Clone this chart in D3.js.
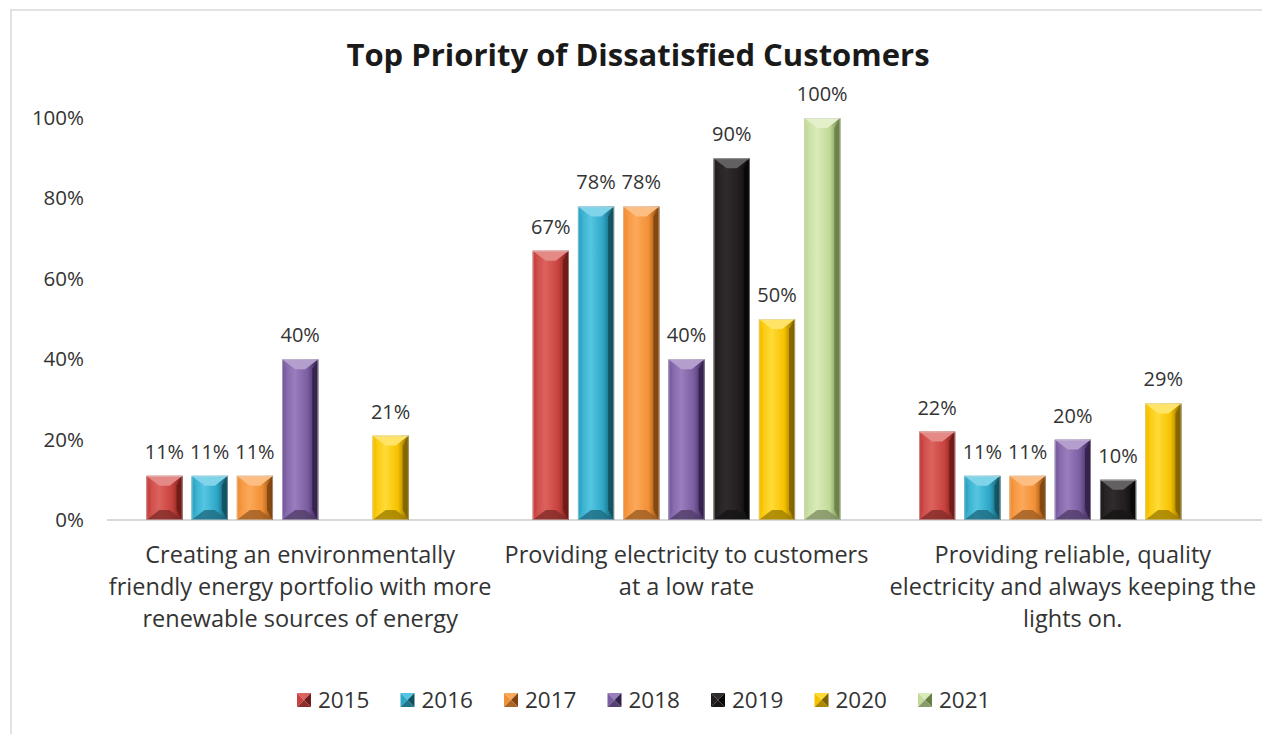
<!DOCTYPE html>
<html>
<head>
<meta charset="utf-8">
<script src="https://cdn.jsdelivr.net/npm/d3@7"></script>
<style>
  body { margin: 0; background: #fff; }
  text { font-family: "Open Sans", Lato, sans-serif; }
</style>
</head>
<body>
<svg id="chart" width="1262" height="734"></svg>
<script>
// DATA
const years = ["2015", "2016", "2017", "2018", "2019", "2020", "2021"];
const categories = [
  ["Creating an environmentally", "friendly energy portfolio with more", "renewable sources of energy"],
  ["Providing electricity to customers", "at a low rate"],
  ["Providing reliable, quality", "electricity and always keeping the", "lights on."],
];
const values2015 = [0.11, 0.67, 0.22];
const values2016 = [0.11, 0.78, 0.11];
const values2017 = [0.11, 0.78, 0.11];
const values2018 = [0.40, 0.40, 0.20];
const values2019 = [null, 0.90, 0.10];
const values2020 = [0.21, 0.50, 0.29];
const values2021 = [null, 1.00, null];
const tickValues = [0, 0.2, 0.4, 0.6, 0.8, 1.0];

const seriesValues = [values2015, values2016, values2017, values2018, values2019, values2020, values2021];

const palette = {
  "2015": { light: "#dc625e", base: "#c8433f", dark: "#6f1a18" },
  "2016": { light: "#55c6e2", base: "#2ea6c6", dark: "#12505f" },
  "2017": { light: "#fca85a", base: "#f29036", dark: "#7f440f" },
  "2018": { light: "#9a7dbd", base: "#7b5ea2", dark: "#33204a" },
  "2019": { light: "#2f2b2c", base: "#221e1f", dark: "#070707" },
  "2020": { light: "#ffdb35", base: "#f6c200", dark: "#7f6200" },
  "2021": { light: "#d9ebb8", base: "#c2da9a", dark: "#667f43" },
};

const textColor = "#333333";
const svg = d3.select("#chart");
const margin = { top: 118, left: 107, right: 1266, bottom: 520 };

// frame
svg.append("rect")
  .attr("x", 11).attr("y", 10)
  .attr("width", 1300).attr("height", 800)
  .attr("fill", "#fff")
  .attr("stroke", "#d9d9d9")
  .attr("stroke-width", 1.5);

// gradients
const defs = svg.append("defs");
years.forEach((yr) => {
  const c = palette[yr];
  const grad = defs.append("linearGradient")
    .attr("id", "grad" + yr)
    .attr("x1", "0%").attr("x2", "100%").attr("y1", "0%").attr("y2", "0%");
  grad.append("stop").attr("offset", "0%").attr("stop-color", c.base);
  grad.append("stop").attr("offset", "35%").attr("stop-color", c.light);
  grad.append("stop").attr("offset", "70%").attr("stop-color", c.base);
  grad.append("stop").attr("offset", "100%").attr("stop-color", c.dark);
});

// scales
const x0 = d3.scaleBand()
  .domain(d3.range(categories.length))
  .range([margin.left, margin.right])
  .padding(0);

const x1 = d3.scaleBand()
  .domain(years)
  .range([0, x0.bandwidth()])
  .paddingInner(0.2)
  .paddingOuter(0.87);

const y = d3.scaleLinear().domain([0, 1]).range([margin.bottom, margin.top]);

// title
svg.append("text")
  .attr("x", 638).attr("y", 66)
  .attr("text-anchor", "middle")
  .attr("font-size", 31)
  .attr("font-weight", "bold")
  .attr("fill", "#1a1a1a")
  .text("Top Priority of Dissatisfied Customers");

// y axis
const gy = svg.append("g")
  .attr("transform", `translate(${margin.left},0)`)
  .call(d3.axisLeft(y).tickValues(tickValues).tickFormat(d3.format(".0%")).tickSize(0).tickPadding(23));
gy.select(".domain").remove();
gy.selectAll("text")
  .attr("font-size", 20.5)
  .attr("fill", textColor)
  .style("font-family", "'Open Sans', sans-serif");

// baseline
svg.append("line")
  .attr("x1", margin.left).attr("x2", margin.right)
  .attr("y1", y(0)).attr("y2", y(0))
  .attr("stroke", "#d9d9d9").attr("stroke-width", 2);

function bevelBar(g, x, yTop, w, h, yr) {
  const c = palette[yr];
  const b = Math.min(10, h / 2);
  const s = 4;
  const light = d3.interpolateRgb(c.light, "#ffffff")(0.25);
  const dark = d3.interpolateRgb(c.base, "#000000")(0.35);
  g.append("rect")
    .attr("x", x).attr("y", yTop).attr("width", w).attr("height", h)
    .attr("fill", `url(#grad${yr})`);
  // left strip
  g.append("polygon")
    .attr("points", [[x, yTop], [x + s, yTop + b], [x + s, yTop + h - b], [x, yTop + h]].join(" "))
    .attr("fill", c.base).attr("opacity", 0.9);
  // right strip
  g.append("polygon")
    .attr("points", [[x + w, yTop], [x + w - s - 2, yTop + b], [x + w - s - 2, yTop + h - b], [x + w, yTop + h]].join(" "))
    .attr("fill", c.dark).attr("opacity", 0.85);
  // top bevel
  g.append("polygon")
    .attr("points", [[x, yTop], [x + w, yTop], [x + w * 0.64, yTop + b], [x + w * 0.36, yTop + b]].join(" "))
    .attr("fill", light);
  // bottom bevel
  g.append("polygon")
    .attr("points", [[x, yTop + h], [x + w, yTop + h], [x + w * 0.64, yTop + h - b], [x + w * 0.36, yTop + h - b]].join(" "))
    .attr("fill", dark).attr("opacity", 0.8);
  g.append("rect")
    .attr("x", x + 0.5).attr("y", yTop + 0.5).attr("width", w - 1).attr("height", h - 1)
    .attr("fill", "none").attr("stroke", "#d0d0d0").attr("stroke-width", 0.8).attr("opacity", 0.6);
}

// bars
const groups = svg.selectAll("g.cat")
  .data(categories)
  .join("g")
  .attr("class", "cat")
  .attr("transform", (d, i) => `translate(${x0(i)},0)`);

groups.each(function (d, ci) {
  const g = d3.select(this);
  years.forEach((yr, si) => {
    const v = seriesValues[si][ci];
    if (v == null) return;
    const bx = x1(yr);
    bevelBar(g, bx, y(v), x1.bandwidth(), y(0) - y(v), yr);
    g.append("text")
      .attr("x", bx + x1.bandwidth() / 2)
      .attr("y", y(v) - 17)
      .attr("text-anchor", "middle")
      .attr("font-size", 20)
      .attr("fill", textColor)
      .text(d3.format(".0%")(v));
  });

  // category label
  const t = g.append("text")
    .attr("x", x0.bandwidth() / 2)
    .attr("y", 563)
    .attr("text-anchor", "middle")
    .attr("font-size", 23.5)
    .attr("fill", textColor);
  d.forEach((line, li) => {
    t.append("tspan")
      .attr("x", x0.bandwidth() / 2)
      .attr("dy", li === 0 ? 0 : 32)
      .text(line);
  });
});

// legend
const legend = svg.append("g").attr("transform", "translate(297,0)");
years.forEach((yr, i) => {
  const lg = legend.append("g").attr("transform", `translate(${i * 103.5},0)`);
  const m = 14;
  const c = palette[yr];
  const ly = 693;
  lg.append("polygon").attr("points", [[0, ly], [m, ly], [m / 2, ly + m / 2]].join(" ")).attr("fill", c.light);
  lg.append("polygon").attr("points", [[0, ly], [m / 2, ly + m / 2], [0, ly + m]].join(" ")).attr("fill", c.base);
  lg.append("polygon").attr("points", [[m, ly], [m / 2, ly + m / 2], [m, ly + m]].join(" ")).attr("fill", c.dark);
  lg.append("polygon").attr("points", [[0, ly + m], [m, ly + m], [m / 2, ly + m / 2]].join(" ")).attr("fill", d3.interpolateRgb(c.base, "#000")(0.3));
  lg.append("text")
    .attr("x", 21).attr("y", 708)
    .attr("font-size", 22.5)
    .attr("fill", textColor)
    .text(yr);
});
</script>
</body>
</html>
